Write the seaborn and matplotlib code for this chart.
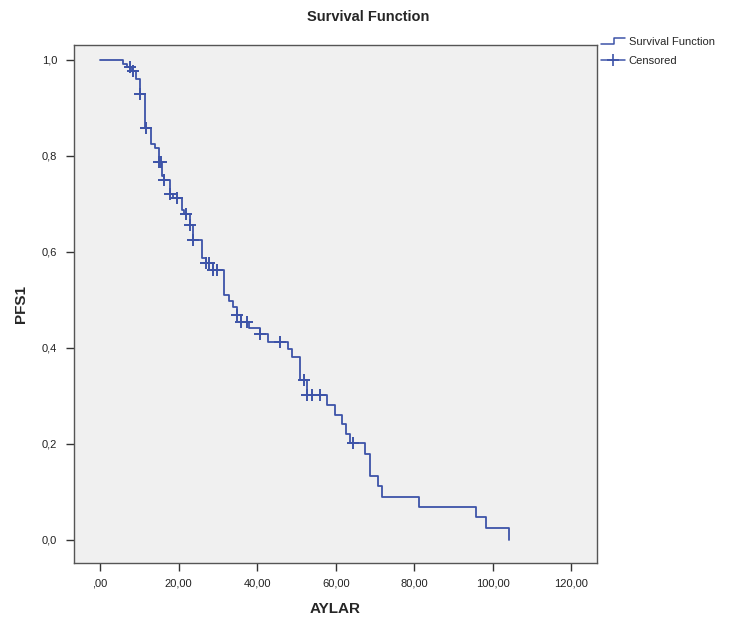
import numpy as np
import pandas as pd
import matplotlib
matplotlib.use("Agg")
import matplotlib.pyplot as plt
from matplotlib.lines import Line2D
from matplotlib.legend_handler import HandlerBase
import seaborn as sns

# ---- data ----
event_times = [0.0, 5.9, 6.95, 8.06, 9.07, 10.2, 11.5, 13.0, 14.0, 15.0, 15.7, 16.3,
               17.8, 18.5, 20.8, 21.5, 22.9, 23.7, 25.9, 26.9, 28.8, 31.7, 32.8,
               33.9, 34.8, 35.9, 37.9, 40.7, 42.8, 47.8, 48.8, 50.9, 52.8, 57.7,
               59.8, 61.5, 62.5, 63.6, 67.5, 68.7, 70.7, 71.7, 81.3, 95.8, 98.2, 104.1]
survival = [1.000, 0.992, 0.985, 0.977, 0.961, 0.928, 0.859, 0.824, 0.816, 0.787, 0.758,
            0.750, 0.721, 0.712, 0.687, 0.678, 0.657, 0.624, 0.588, 0.576, 0.563, 0.510,
            0.498, 0.486, 0.469, 0.455, 0.441, 0.428, 0.413, 0.397, 0.382, 0.333, 0.301,
            0.282, 0.261, 0.241, 0.221, 0.202, 0.180, 0.134, 0.112, 0.090, 0.069, 0.048,
            0.024, 0.000]
censor_times = [7.6, 8.4, 10.2, 11.7, 15.0, 15.5, 16.4, 17.8, 19.5, 22.0, 22.9, 23.7,
                26.9, 27.8, 28.8, 29.9, 34.8, 35.9, 37.5, 40.7, 45.8, 51.9, 52.8, 53.9,
                56.0, 64.5]
x_ticks = [0, 20, 40, 60, 80, 100, 120]
x_tick_labels = [",00", "20,00", "40,00", "60,00", "80,00", "100,00", "120,00"]
y_ticks = [0.0, 0.2, 0.4, 0.6, 0.8, 1.0]
y_tick_labels = ["0,0", "0,2", "0,4", "0,6", "0,8", "1,0"]

LINE_COLOR = "#3d53a8"

sns.set_theme(style="white")
plt.rcParams["font.family"] = ["Liberation Sans", "DejaVu Sans"]

curve = pd.DataFrame({"t": event_times, "S": survival})
idx = np.searchsorted(np.array(event_times), np.array(censor_times), side="right") - 1
cens = pd.DataFrame({"t": censor_times, "S": np.array(survival)[idx]})

fig = plt.figure(figsize=(7.36, 6.27), dpi=100)
ax = fig.add_axes([74 / 736, 1 - 563 / 627, (597 - 74) / 736, (563 - 45) / 627])
ax.set_facecolor("#f0f0f0")

sns.lineplot(data=curve, x="t", y="S", ax=ax, estimator=None, sort=False,
             drawstyle="steps-post", color=LINE_COLOR, linewidth=1.3)
sns.scatterplot(data=cens, x="t", y="S", ax=ax, marker="+", s=70,
                color=LINE_COLOR, linewidth=1.4, zorder=3)

ax.set_xlim(-6.6, 126.5)
ax.set_ylim(-0.048, 1.031)
ax.set_xticks(x_ticks)
ax.set_xticklabels(x_tick_labels, fontsize=8)
ax.set_yticks(y_ticks)
ax.set_yticklabels(y_tick_labels, fontsize=8)
ax.tick_params(axis="x", direction="out", length=6, width=1, color="#333333",
               labelcolor="#222222", pad=5, bottom=True)
ax.tick_params(axis="y", direction="out", length=6, width=1, color="#333333",
               labelcolor="#222222", pad=6, left=True)
for sp in ax.spines.values():
    sp.set_color("#555555")
    sp.set_linewidth(1.0)

ax.set_xlabel("AYLAR", fontsize=11, fontweight="bold", labelpad=10)
ax.set_ylabel("PFS1", fontsize=11, fontweight="bold", labelpad=10)
fig.suptitle("Survival Function", x=0.5, y=1 - 10 / 627, fontsize=10.5,
             fontweight="bold", va="top")


class StepHandler(HandlerBase):
    def create_artists(self, legend, orig_handle, xdescent, ydescent, width, height,
                       fontsize, trans):
        x0, y0 = -xdescent, -ydescent
        xs = [x0, x0 + width * 0.55, x0 + width * 0.55, x0 + width]
        ys = [y0 + height * 0.15, y0 + height * 0.15, y0 + height * 0.85, y0 + height * 0.85]
        return [Line2D(xs, ys, color=LINE_COLOR, lw=1.1, transform=trans)]


class CensorHandler(HandlerBase):
    def create_artists(self, legend, orig_handle, xdescent, ydescent, width, height,
                       fontsize, trans):
        x0, y0 = -xdescent, -ydescent
        ln = Line2D([x0, x0 + width], [y0 + height / 2] * 2, color=LINE_COLOR, lw=1.1,
                    transform=trans)
        mk = Line2D([x0 + width / 2], [y0 + height / 2], marker="+", markersize=9,
                    markeredgewidth=1.2, color=LINE_COLOR, transform=trans)
        return [ln, mk]


h1 = Line2D([], [])
h2 = Line2D([], [])
fig.legend([h1, h2], ["Survival Function", "Censored"],
           handler_map={h1: StepHandler(), h2: CensorHandler()},
           loc="upper left", bbox_to_anchor=(601 / 736, 1 - 37 / 627),
           frameon=False, fontsize=8, handlelength=2.2, handletextpad=0.3,
           labelspacing=0.8, borderpad=0.0, borderaxespad=0.0)

fig.savefig("out.png", dpi=100)
